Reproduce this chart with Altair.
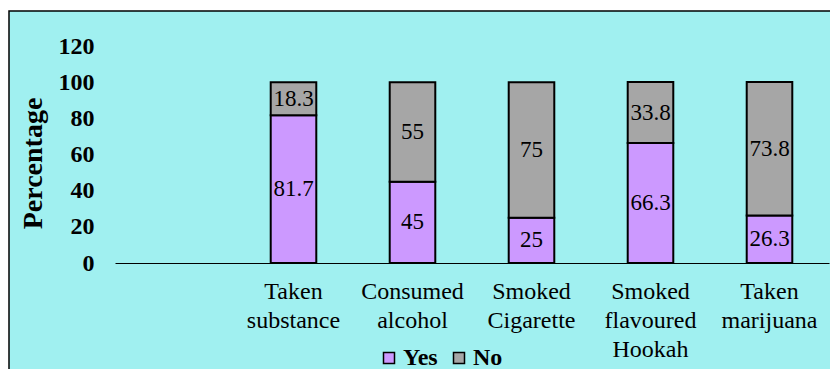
import altair as alt
import pandas as pd

categories = ["Taken substance", "Consumed alcohol", "Smoked Cigarette",
              "Smoked flavoured Hookah", "Taken marijuana"]
yes_values = [81.7, 45, 25, 66.3, 26.3]
no_values = [18.3, 55, 75, 33.8, 73.8]
series = ["Yes", "No"]
colors = ["#cc99ff", "#a6a6a6"]
y_ticks = [0, 20, 40, 60, 80, 100, 120]

rows = []
for c, y, n in zip(categories, yes_values, no_values):
    rows.append({"cat": c, "resp": "Yes", "val": y, "ord": 0})
    rows.append({"cat": c, "resp": "No", "val": n, "ord": 1})
df = pd.DataFrame(rows)

domain = [" "] + categories
FONT = "Liberation Serif, Times New Roman, serif"

x_scale = alt.Scale(domain=domain, paddingInner=0.617, paddingOuter=0.3085)
y_scale = alt.Scale(domain=[0, 120], nice=False)

x_axis = alt.Axis(title=None, labelAngle=0, ticks=False, domain=True,
                  domainColor="black", domainWidth=1.2, zindex=1,
                  labelExpr="datum.value == ' ' ? '' : split(datum.value, ' ')",
                  labelFont=FONT, labelFontSize=24, labelColor="black",
                  labelLineHeight=29, labelPadding=16, labelBaseline="top")

y_axis = alt.Axis(values=y_ticks, title="Percentage", grid=False, ticks=False,
                  domain=False, zindex=1, labelOverlap=False, labelFont=FONT,
                  labelFontSize=24, labelFontWeight="bold", labelColor="black",
                  labelPadding=21,
                  titleFont=FONT, titleFontSize=28, titleFontWeight="bold",
                  titleColor="black", titleX=-82, titleY=117, titleAngle=270,
                  titleBaseline="middle", titleAlign="center")

base = alt.Chart(df).transform_stack(
    stack="val", groupby=["cat"], as_=["v0", "v1"],
    sort=[alt.SortField("ord", order="ascending")]
).transform_calculate(mid="(datum.v0 + datum.v1) / 2")

bars = base.mark_bar(stroke="black", strokeWidth=2).encode(
    x=alt.X("cat:N", sort=domain, scale=x_scale, axis=x_axis),
    y=alt.Y("v0:Q", scale=y_scale, axis=y_axis),
    y2="v1:Q",
    color=alt.Color("resp:N", scale=alt.Scale(domain=series, range=colors),
                    legend=alt.Legend(title=None, orient="none", direction="horizontal",
                                      legendX=262, legendY=300, symbolType="square",
                                      symbolSize=121, symbolStrokeColor="black",
                                      symbolStrokeWidth=1.5, symbolOpacity=1,
                                      labelFont=FONT, labelFontSize=24,
                                      labelFontWeight="bold", labelColor="black",
                                      labelOffset=2, columnPadding=9)),
)

labels = base.mark_text(font=FONT, fontSize=23, color="black", baseline="middle").encode(
    x=alt.X("cat:N", sort=domain, scale=x_scale, axis=x_axis),
    y=alt.Y("mid:Q", scale=y_scale, axis=y_axis),
    text=alt.Text("val:Q"),
)

bg = alt.Chart(pd.DataFrame({"a": [0]})).mark_rect(
    fill="#a0f0f0", stroke="black", strokeWidth=1.5
).encode(
    x=alt.value(-106), x2=alt.value(740), y=alt.value(-35), y2=alt.value(340)
)

chart = alt.layer(bg, bars, labels).properties(
    width=714, height=217,
    padding={"left": 115, "top": 46, "right": 1, "bottom": 106},
    autosize=alt.AutoSizeParams(type="none"),
    background="white",
).configure_view(stroke=None)

chart.save("out.html", embed_options={"renderer": "svg", "actions": False})
